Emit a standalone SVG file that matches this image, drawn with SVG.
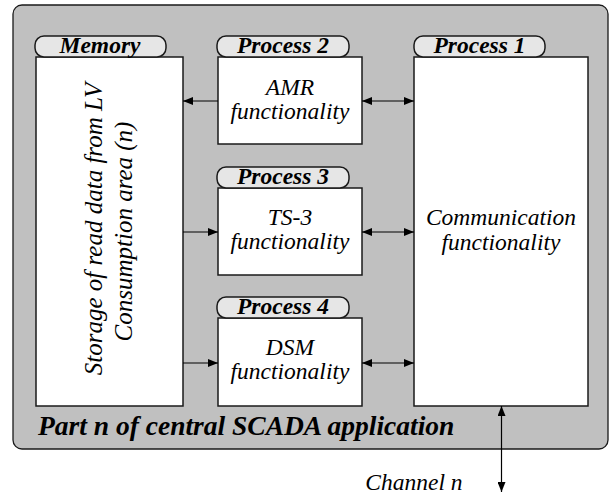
<svg xmlns="http://www.w3.org/2000/svg" width="609" height="494" viewBox="0 0 609 494">
<style>
.bg{fill:#c0c0c0;stroke:#1a1a1a;stroke-width:1.3}
.box{fill:#fff;stroke:#1a1a1a;stroke-width:1.5}
.pill{fill:#e6e6e6;stroke:#1a1a1a;stroke-width:1.5}
.pt{font-family:'Liberation Serif','Times New Roman',serif;font-style:italic;font-weight:bold;font-size:23.5px;fill:#000;text-anchor:middle}
.t{font-family:'Liberation Serif','Times New Roman',serif;font-style:italic;font-size:23.5px;fill:#000;text-anchor:middle}
.big{font-family:'Liberation Serif','Times New Roman',serif;font-style:italic;font-weight:bold;font-size:27.5px;fill:#000}
.c{stroke:#000;stroke-width:1.2;fill:none}
</style>
<defs>
<marker id="ah" viewBox="0 0 10 8" refX="10" refY="4" markerWidth="10" markerHeight="8" markerUnits="userSpaceOnUse" orient="auto-start-reverse">
<path d="M0,0 L10,4 L0,8 z" fill="#000"/>
</marker>
</defs>
<g id="container">
<rect class="bg" x="13" y="5" width="595" height="444" rx="9"/>
<text class="big" x="38" y="435">Part n of central SCADA application</text>
</g>
<g id="memory">
<rect class="box" x="36" y="57" width="147" height="349"/>
<rect class="pill" x="35" y="36" width="131" height="21" rx="9"/>
<text class="pt" x="100" y="53">Memory</text>
<text class="t" transform="translate(101.5,229) rotate(-90)" style="font-size:25px">Storage of read data from LV</text>
<text class="t" transform="translate(131.5,231.5) rotate(-90)" style="font-size:25px">Consumption area (n)</text>
</g>
<g id="process2">
<rect class="box" x="218" y="57" width="144" height="87"/>
<rect class="pill" x="217" y="36" width="132" height="21" rx="9"/>
<text class="pt" x="283" y="53">Process 2</text>
<text class="t" x="290" y="95">AMR</text>
<text class="t" x="290" y="119">functionality</text>
</g>
<g id="process3">
<rect class="box" x="218" y="188" width="144" height="87"/>
<rect class="pill" x="217" y="167" width="132" height="21" rx="9"/>
<text class="pt" x="283" y="184">Process 3</text>
<text class="t" x="290" y="225">TS-3</text>
<text class="t" x="290" y="249">functionality</text>
</g>
<g id="process4">
<rect class="box" x="218" y="318" width="144" height="88"/>
<rect class="pill" x="217" y="297" width="132" height="21" rx="9"/>
<text class="pt" x="283" y="314">Process 4</text>
<text class="t" x="290" y="355">DSM</text>
<text class="t" x="290" y="379">functionality</text>
</g>
<g id="process1">
<rect class="box" x="414" y="57" width="174" height="349"/>
<rect class="pill" x="414" y="36" width="131" height="21" rx="9"/>
<text class="pt" x="479.5" y="53">Process 1</text>
<text class="t" x="501" y="225">Communication</text>
<text class="t" x="501" y="250">functionality</text>
</g>
<g id="channel">
<text class="t" x="414" y="490">Channel n</text>
</g>
<g id="connectors">
<line class="c" x1="218" y1="101" x2="183" y2="101" marker-end="url(#ah)"/>
<line class="c" x1="183" y1="232" x2="218" y2="232" marker-end="url(#ah)"/>
<line class="c" x1="183" y1="363" x2="218" y2="363" marker-end="url(#ah)"/>
<line class="c" x1="362" y1="101" x2="414" y2="101" marker-start="url(#ah)" marker-end="url(#ah)"/>
<line class="c" x1="362" y1="232" x2="414" y2="232" marker-start="url(#ah)" marker-end="url(#ah)"/>
<line class="c" x1="362" y1="363" x2="414" y2="363" marker-start="url(#ah)" marker-end="url(#ah)"/>
<line class="c" x1="501.5" y1="406" x2="501.5" y2="492" marker-start="url(#ah)" marker-end="url(#ah)"/>
</g>
</svg>
